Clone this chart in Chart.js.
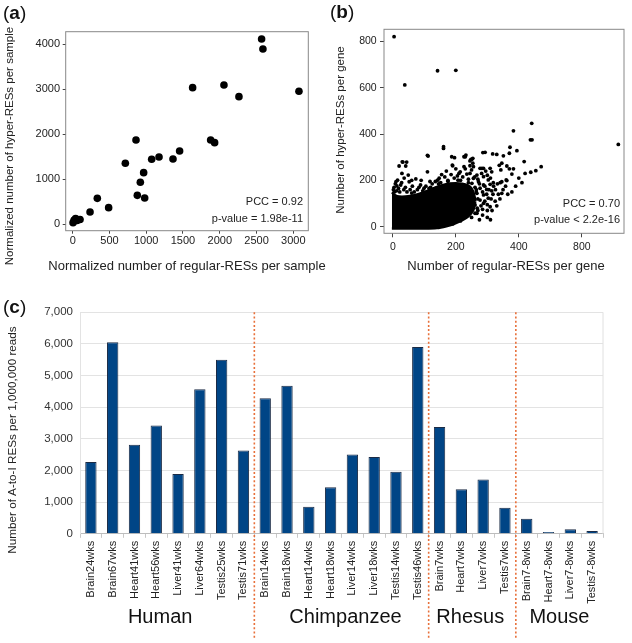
<!DOCTYPE html>
<html><head><meta charset="utf-8">
<script src="https://cdn.jsdelivr.net/npm/chart.js@4.4.1/dist/chart.umd.min.js"></script>
<style>
html,body{margin:0;padding:0;background:#fff;}
#wrap{position:relative;width:632px;height:643px;overflow:hidden;background:#fff;}
canvas{position:absolute;}
</style></head><body>
<div id="wrap">
<canvas id="ca" width="340" height="290" style="left:0;top:0;width:340px;height:290px"></canvas>
<canvas id="cb" width="316" height="290" style="left:316px;top:0;width:316px;height:290px"></canvas>
<canvas id="cc" width="632" height="353" style="left:0;top:290px;width:632px;height:353px"></canvas>
</div>
<script>
// ---------- Panel (a) data ----------
const aRegular = [5, 20, 40, 60, 100, 236, 335, 489, 716, 861, 879, 920, 965, 979, 1074, 1174, 1364, 1454, 1631, 1876, 1930, 2057, 2261, 2569, 2587, 3077];
const aHyper   = [30, 90, 120, 80, 100, 267, 571, 364, 1351, 1870, 638, 928, 1143, 579, 1440, 1492, 1447, 1625, 3035, 1870, 1811, 3095, 2835, 4119, 3896, 2954];
const aXTicks = [0, 500, 1000, 1500, 2000, 2500, 3000];
const aYTicks = [0, 1000, 2000, 3000, 4000];
const aStats = ['PCC = 0.92', 'p-value = 1.98e-11'];

// ---------- Panel (b) data ----------
const bRegular = [4,142,200,38,716,441,383,437,442,372,394,370,330,293,286,317,351,417,471,454,438,346,338,362,343,378,370,362,341,309,288,283,314,254,245,245,346,309,261,232,267,
 251,256,277,267,288,256,303,272,319,251,288,261,277,298,314,251,267,288,303,256,277,261,288,320,335,325,300,285,
 161,112,110,30,20,41,187,189,226,232,248,214,226,49,73,10,15,52,4,13,25,83,99,142,147,152,205,207,235,250,29,32,44,110,196,190,161,230,254,309,360,346,383,
 5,60,120,175,215,240,265,270,268,250,215,190,
 2,8,12,18,22,28,35,40,45,55,62,68,78,88,95,105,115,125,130,60,36,90,118,
 135,145,165,175,185,195,210,222,240,245,170,200,230,155,260,270,282,295,300,310,
 255,265,275,285,292,298,305,312,318,326,332,280,292,270,285,300,315,330,340,350,358,365,378,390,400,410,420,300,310,275];
const bHyper = [820,673,675,612,355,446,414,375,375,343,328,317,312,321,320,314,306,281,259,242,235,274,265,262,245,227,250,199,190,252,252,252,237,295,284,263,144,86,58,50,58,
 291,259,252,223,216,209,202,194,190,187,180,170,166,161,155,151,144,137,123,123,115,94,101,175,140,110,70,75,
 338,305,237,280,262,262,302,266,302,309,291,237,259,223,206,194,201,194,170,176,180,170,166,201,209,190,219,201,227,245,230,279,279,308,298,263,345,302,274,183,202,194,250,
 150,145,170,196,200,190,150,120,80,40,25,12,
 160,185,155,165,150,190,160,170,150,160,175,150,160,180,155,175,165,185,160,200,210,200,195,
 195,185,215,200,225,210,230,215,205,230,240,250,250,225,215,205,230,240,222,210,
 130,160,185,150,175,140,160,120,140,160,185,90,110,70,50,95,70,90,120,160,175,140,150,175,210,190,230,40,30,30];
// outline of the solid dense core of genes (upper and lower edge)
const bCoreTopX = [-3, 8, 20, 40, 60, 80, 100, 120, 140, 160, 180, 200, 220, 238, 250, 258, 262];
const bCoreTopY = [148, 135, 130, 130, 134, 140, 150, 160, 172, 180, 186, 188, 186, 178, 165, 140, 110];
const bCoreBotX = [-3, 100, 140, 170, 195, 220, 240, 255, 262];
const bCoreBotY = [-8, -8, -6, 2, 12, 28, 45, 70, 110];
const bXTickValues = [0, 200, 400, 600];
const bXTickLabels = ['0', '200', '400', '800'];
const bYTicks = [0, 200, 400, 600, 800];
const bStats = ['PCC = 0.70', 'p-value < 2.2e-16'];

// ---------- Panel (c) data ----------
const cCategories = ['Brain24wks','Brain67wks','Heart41wks','Heart56wks','Liver41wks','Liver64wks','Testis25wks','Testis71wks',
  'Brain14wks','Brain18wks','Heart14wks','Heart18wks','Liver14wks','Liver18wks','Testis14wks','Testis46wks',
  'Brain7wks','Heart7wks','Liver7wks','Testis7wks',
  'Brain7-8wks','Heart7-8wks','Liver7-8wks','Testis7-8wks'];
const cValues = [2270, 6050, 2815, 3425, 1890, 4570, 5500, 2630,
  4285, 4675, 855, 1468, 2503, 2430, 1960, 5900,
  3375, 1411, 1716, 823,
  476, 60, 142, 88];
const cGroups = ['Human', 'Chimpanzee', 'Rhesus', 'Mouse'];
const cGroupSizes = [8, 8, 4, 4];
const cYTicks = [0, 1000, 2000, 3000, 4000, 5000, 6000, 7000];

// ---------- helpers ----------
const F = "'Liberation Sans', Arial, sans-serif";
Chart.defaults.font.family = F;

function makeTexts(items){
  return {id:'texts', afterDraw(chart){
    const ctx = chart.ctx;
    items.forEach(it=>{
      ctx.save();
      ctx.fillStyle = it.color || '#111';
      ctx.textBaseline = 'middle';
      ctx.translate(it.x, it.y);
      if (it.rot) ctx.rotate(it.rot);
      if (it.parts){
        ctx.textAlign = 'left';
        let x = 0;
        it.parts.forEach(p=>{ ctx.font = p.font; ctx.fillText(p.t, x, 0); x += ctx.measureText(p.t).width; });
      } else {
        ctx.font = it.font;
        ctx.textAlign = it.align || 'center';
        ctx.fillText(it.text, 0, 0);
      }
      ctx.restore();
    });
  }};
}
function makeBox(color){
  return {id:'box', afterDatasetsDraw(chart){
    const {ctx, chartArea:a} = chart;
    ctx.save(); ctx.strokeStyle = color; ctx.lineWidth = 1;
    ctx.strokeRect(a.left, a.top, a.right - a.left, a.bottom - a.top);
    ctx.restore();
  }};
}
function panelLabel(letter, x, y){
  return {x, y, color:'#111', parts:[{t:'(', font:'19px '+F},{t:letter, font:'bold 19px '+F},{t:')', font:'19px '+F}]};
}
function fixScale(prop, val){
  return s => { s[prop] = val; s.paddingLeft = 0; s.paddingRight = 0; s.paddingTop = 0; s.paddingBottom = 0; };
}
const plain = v => String(v);
const noPlug = {legend:{display:false}, tooltip:{enabled:false}};

// ---------- Chart (a) ----------
new Chart(document.getElementById('ca'), {
  type:'scatter',
  data:{datasets:[{data: aRegular.map((x,i)=>({x, y:aHyper[i]})), pointRadius:3.8, pointBackgroundColor:'#000', pointBorderWidth:0}]},
  options:{
    responsive:false, animation:false, events:[],
    layout:{padding:{left:0, right:31.7, top:31.7, bottom:0}},
    plugins: noPlug,
    scales:{
      x:{type:'linear', min:-95, max:3204,
        afterBuildTicks: s => { s.ticks = aXTicks.map(v=>({value:v})); },
        grid:{drawOnChartArea:false, drawTicks:true, tickLength:3, color:'#444'},
        border:{display:false},
        ticks:{font:{size:11}, color:'#222', padding:1, maxRotation:0, autoSkip:false, callback: plain},
        afterFit: fixScale('height', 59.3)},
      y:{type:'linear', min:-149, max:4281,
        afterBuildTicks: s => { s.ticks = aYTicks.map(v=>({value:v})); },
        grid:{drawOnChartArea:false, drawTicks:true, tickLength:3, color:'#444'},
        border:{display:false},
        ticks:{font:{size:11}, color:'#222', padding:2.7, autoSkip:false, callback: plain},
        afterFit: fixScale('width', 65.7)}
    }
  },
  plugins:[makeBox('#888'), makeTexts([
    panelLabel('a', 3, 14),
    {text:'Normalized number of hyper-RESs per sample', x:10, y:146, rot:-Math.PI/2, font:'11.5px '+F, color:'#222'},
    {text:'Normalized number of regular-RESs per sample', x:187, y:266.5, font:'13px '+F, color:'#222'},
    {text:aStats[0], x:303, y:202, align:'right', font:'11px '+F, color:'#222'},
    {text:aStats[1], x:303, y:219, align:'right', font:'11px '+F, color:'#222'}
  ])]
});

// ---------- Chart (b) ----------
new Chart(document.getElementById('cb'), {
  type:'scatter',
  data:{datasets:[
    {type:'line', data: bCoreTopX.map((x,i)=>({x, y:bCoreTopY[i]})), borderColor:'#000', borderWidth:2.5, backgroundColor:'#000', pointRadius:0, fill:'+1', tension:0.3},
    {type:'line', data: bCoreBotX.map((x,i)=>({x, y:bCoreBotY[i]})), borderColor:'#000', borderWidth:2.5, backgroundColor:'#000', pointRadius:0, fill:false, tension:0.3},
    {data: bRegular.map((x,i)=>({x, y:bHyper[i]})), pointRadius:1.9, pointBackgroundColor:'#000', pointBorderWidth:0}
  ]},
  options:{
    responsive:false, animation:false, events:[],
    layout:{padding:{left:0, right:8, top:29.3, bottom:0}},
    plugins: noPlug,
    scales:{
      x:{type:'linear', min:-28, max:734,
        afterBuildTicks: s => { s.ticks = bXTickValues.map(v=>({value:v})); },
        grid:{drawOnChartArea:false, drawTicks:true, tickLength:4, color:'#444'},
        border:{display:false},
        ticks:{font:{size:10.5}, color:'#222', padding:3.4, maxRotation:0, autoSkip:false,
          callback: (v) => bXTickLabels[bXTickValues.indexOf(v)]},
        afterFit: fixScale('height', 56.7)},
      y:{type:'linear', min:-28.5, max:852,
        afterBuildTicks: s => { s.ticks = bYTicks.map(v=>({value:v})); },
        grid:{drawOnChartArea:false, drawTicks:true, tickLength:4, color:'#444'},
        border:{display:false},
        ticks:{font:{size:10.5}, color:'#222', padding:3.3, autoSkip:false, callback: plain},
        afterFit: fixScale('width', 68)}
    }
  },
  plugins:[makeBox('#888'), makeTexts([
    panelLabel('b', 14, 12.5),
    {text:'Number of hyper-RESs per gene', x:24.7, y:130, rot:-Math.PI/2, font:'11.5px '+F, color:'#222'},
    {text:'Number of regular-RESs per gene', x:190, y:266, font:'13px '+F, color:'#222'},
    {text:bStats[0], x:304, y:204, align:'right', font:'11px '+F, color:'#222'},
    {text:bStats[1], x:304, y:220, align:'right', font:'11px '+F, color:'#222'}
  ])]
});

// ---------- Chart (c) ----------
const groupPlugin = {id:'groups', afterDraw(chart){
  const {ctx, chartArea:a, scales:{x}} = chart;
  const dx = [-7, 4, -2, 0];
  let start = 0;
  ctx.save();
  cGroupSizes.forEach((n, g) => {
    const end = start + n - 1;
    const cx = (x.getPixelForValue(start) + x.getPixelForValue(end)) / 2 + dx[g];
    ctx.font = '20px ' + F; ctx.fillStyle = '#111'; ctx.textAlign = 'center'; ctx.textBaseline = 'middle';
    ctx.fillText(cGroups[g], cx, 327);
    if (g < cGroupSizes.length - 1){
      const bx = (x.getPixelForValue(end) + x.getPixelForValue(end + 1)) / 2;
      ctx.strokeStyle = '#e8703a'; ctx.lineWidth = 1.6; ctx.setLineDash([2, 2.2]);
      ctx.beginPath(); ctx.moveTo(bx, a.top); ctx.lineTo(bx, 348); ctx.stroke();
      ctx.setLineDash([]);
    }
    start += n;
  });
  ctx.strokeStyle = '#e0e0e0'; ctx.lineWidth = 1;
  ctx.beginPath(); ctx.moveTo(a.right, a.top); ctx.lineTo(a.right, a.bottom); ctx.stroke();
  ctx.restore();
}};
new Chart(document.getElementById('cc'), {
  type:'bar',
  data:{labels: cCategories, datasets:[{data: cValues, backgroundColor:'#004586', borderColor:'#1b2b45', borderWidth:1, barPercentage:0.52, categoryPercentage:1}]},
  options:{
    responsive:false, animation:false, events:[],
    layout:{padding:{left:0, right:29, top:22.3, bottom:0}},
    plugins: noPlug,
    scales:{
      x:{grid:{offset:true, drawOnChartArea:false, drawTicks:true, tickLength:4, color:'#c8c8c8'},
        border:{display:true, color:'#bdbdbd'},
        ticks:{font:{size:11}, color:'#222', padding:3, minRotation:90, maxRotation:90, autoSkip:false},
        afterFit: fixScale('height', 109.2)},
      y:{min:0, max:7000,
        afterBuildTicks: s => { s.ticks = cYTicks.map(v=>({value:v})); },
        grid:{color:'#e3e3e3', drawTicks:false},
        border:{display:true, color:'#e3e3e3'},
        ticks:{font:{size:11.5}, color:'#333', padding:7, callback: v => v.toLocaleString('en-US')},
        afterFit: fixScale('width', 80)}
    }
  },
  plugins:[groupPlugin, makeTexts([
    panelLabel('c', 3, 17.5),
    {text:'Number of A-to-I RESs per 1,000,000 reads', x:13, y:150, rot:-Math.PI/2, font:'11.7px '+F, color:'#222'}
  ])]
});
</script>
</body></html>
